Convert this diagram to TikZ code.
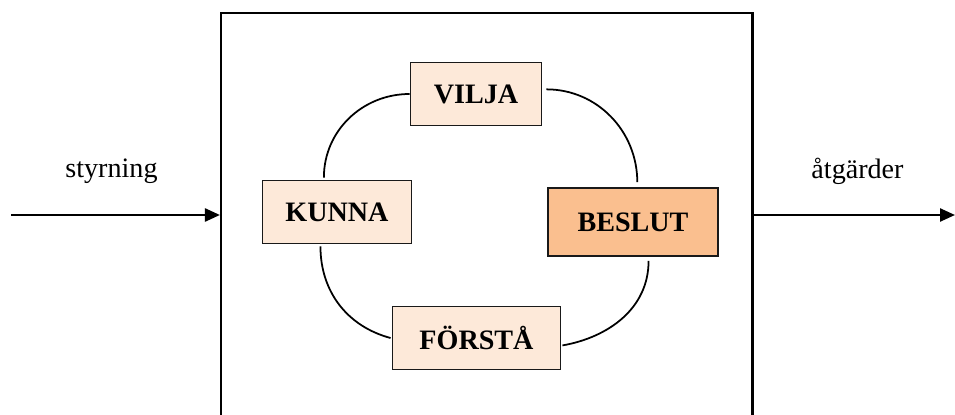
\documentclass[tikz,border=0pt]{standalone}
\usepackage{fontspec}
\setmainfont{Liberation Serif}
\usetikzlibrary{calc,positioning,arrows.meta}
\definecolor{lightpeach}{HTML}{FDE9D9}
\definecolor{peach}{HTML}{FABF8F}

\begin{document}
\begin{tikzpicture}[
    step box/.style={draw=black!90,line width=1.1pt,rectangle,fill=lightpeach,
      minimum height=1.26cm,font=\fontsize{16}{19}\selectfont\bfseries},
    loop line/.style={line width=1pt},
    flow/.style={line width=1.4pt,-{Triangle[length=3mm,width=2.6mm]}},
    side label/.style={anchor=base,font=\fontsize{16}{19}\selectfont}]

  \useasboundingbox (0,0) rectangle (19.1,8.28);

  \node [draw,line width=1.2pt,rectangle,minimum width=10.63cm,minimum height=8.52cm] at(9.735,3.76) (frame) {};

  \node [step box,minimum width=2.62cm] at(9.52,6.40) (vilja) {VILJA};
  \node [step box,minimum width=2.98cm] at(6.74,4.04) (kunna) {KUNNA};
  \node [step box,fill=peach,minimum width=3.40cm,minimum height=1.36cm] at(12.66,3.84) (beslut) {BESLUT};
  \node [step box,minimum width=3.36cm] at(9.53,1.52) (forsta) {FÖRSTÅ};

  \path [loop line] (vilja.west) edge [out=180,in=90] ($(kunna.112)+(0,.04)$)
    ($(vilja.4)+(.08,0)$) edge [out=0,in=90] ($(beslut.83)+(0,.1)$)
    ($(kunna.243)-(0,.04)$) edge [out=-90,in=165] ($(forsta.west)-(.02,0)$)
    ($(beslut.294)-(0,.08)$) edge [out=-90,in=10] ($(forsta.355)+(.02,0)$);

  % in- och utflöde
  \coordinate (in) at (0.22,3.98);
  \coordinate (out) at (19.1,3.98);
  \draw [flow] (in) -- (in -| frame.west);
  \draw [flow] (out -| frame.east) -- (out);

  \node [side label] at(2.23,4.72) (styr) {styrning};
  \node [side label] at(17.15,4.70) (atg) {åtgärder};

\end{tikzpicture}
\end{document}
